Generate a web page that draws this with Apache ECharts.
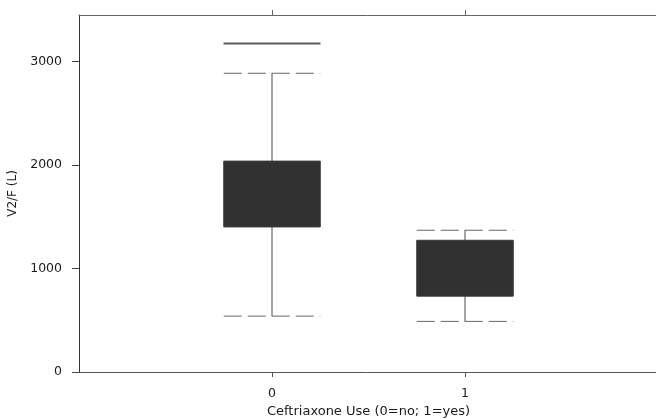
<!DOCTYPE html>
<html>
<head>
<meta charset="utf-8">
<script src="https://cdn.jsdelivr.net/npm/echarts@6/dist/echarts.min.js"></script>
<style>
html,body{margin:0;padding:0;background:#fff;}
#c{width:656px;height:419px;}
</style>
</head>
<body>
<div id="c"></div>
<script>
// categories on the x axis (outer two are padding slots, not labelled)
var categories = ['-1', '0', '1', '2'];
var shownCategories = ['0', '1'];
// box statistics: [category index, min, Q1, median, Q3, max]
var group0 = [1, 540, 1402, 1720, 2038, 2887];
var group1 = [2, 489, 733, 1000, 1273, 1370];
// outlier shown as a horizontal bar: [category index, value]
var outliers = [[1, 3174]];
var yTicks = [0, 1000, 2000, 3000];

var chart = echarts.init(document.getElementById('c'), null, {renderer: 'canvas'});
var font = 'DejaVu Sans';
var showCat = function (idx, val) { return shownCategories.indexOf(val) >= 0; };

function renderBox(params, api) {
  var x = api.value(0);
  var band = api.size([1, 0])[0];
  var half = band * 0.25;
  var pMin = api.coord([x, api.value(1)]);
  var pQ1 = api.coord([x, api.value(2)]);
  var pQ3 = api.coord([x, api.value(4)]);
  var pMax = api.coord([x, api.value(5)]);
  var cx = pMin[0];
  var lineStyle = {stroke: '#4a4a4a', lineWidth: 1};
  return {
    type: 'group',
    children: [
      {type: 'line', shape: {x1: cx, y1: pQ3[1], x2: cx, y2: pMax[1]}, style: lineStyle},
      {type: 'line', shape: {x1: cx, y1: pQ1[1], x2: cx, y2: pMin[1]}, style: lineStyle},
      {type: 'line', shape: {x1: cx - half, y1: pMax[1], x2: cx + half, y2: pMax[1]}, style: {stroke: '#666', lineWidth: 1, lineDash: [18, 6]}},
      {type: 'line', shape: {x1: cx - half, y1: pMin[1], x2: cx + half, y2: pMin[1]}, style: {stroke: '#666', lineWidth: 1, lineDash: [18, 6]}},
      {type: 'rect', shape: {x: cx - half, y: pQ3[1], width: half * 2, height: pQ1[1] - pQ3[1]}, style: {fill: '#313131', stroke: '#3a3a3a', lineWidth: 1}}
    ]
  };
}

chart.setOption({
  animation: false,
  backgroundColor: '#fff',
  grid: {left: 79, right: -2, top: 15, bottom: 47, containLabel: false, outerBoundsMode: 'none'},
  xAxis: [{
    type: 'category',
    data: categories,
    boundaryGap: false,
    position: 'bottom',
    name: 'Ceftriaxone Use (0=no; 1=yes)',
    nameLocation: 'middle',
    nameGap: 27,
    nameTextStyle: {fontFamily: font, fontSize: 13, color: '#1a1a1a'},
    axisLine: {show: true, lineStyle: {color: '#555', width: 1}},
    axisTick: {show: true, inside: false, length: 5, interval: showCat, lineStyle: {color: '#555'}},
    axisLabel: {show: true, interval: showCat, margin: 15, fontFamily: font, fontSize: 12.5, color: '#1a1a1a'},
    splitLine: {show: false}
  }, {
    type: 'category',
    data: categories,
    boundaryGap: false,
    position: 'top',
    axisLine: {show: true, lineStyle: {color: '#666', width: 1}},
    axisTick: {show: true, inside: false, length: 5, interval: showCat, lineStyle: {color: '#666'}},
    axisLabel: {show: false},
    splitLine: {show: false}
  }],
  yAxis: {
    type: 'value',
    min: 0,
    max: 3450,
    interval: 1000,
    name: 'V2/F (L)',
    nameLocation: 'middle',
    nameRotate: 90,
    nameGap: 56,
    nameTextStyle: {fontFamily: font, fontSize: 12, color: '#1a1a1a'},
    axisLine: {show: true, lineStyle: {color: '#333', width: 1}},
    axisTick: {show: true, inside: false, length: 7, customValues: yTicks, lineStyle: {color: '#444'}},
    axisLabel: {show: true, customValues: yTicks, margin: 17, fontFamily: font, fontSize: 12.5, color: '#1a1a1a',
      formatter: function (v) { return String(v); }},
    splitLine: {show: false}
  },
  series: [{
    type: 'custom',
    xAxisIndex: 0,
    renderItem: renderBox,
    encode: {x: 0, y: [1, 2, 3, 4, 5]},
    data: [group0, group1]
  }, {
    type: 'scatter',
    xAxisIndex: 0,
    symbol: 'rect',
    symbolSize: [97, 2],
    itemStyle: {color: '#333'},
    data: outliers
  }]
});
</script>
</body>
</html>
